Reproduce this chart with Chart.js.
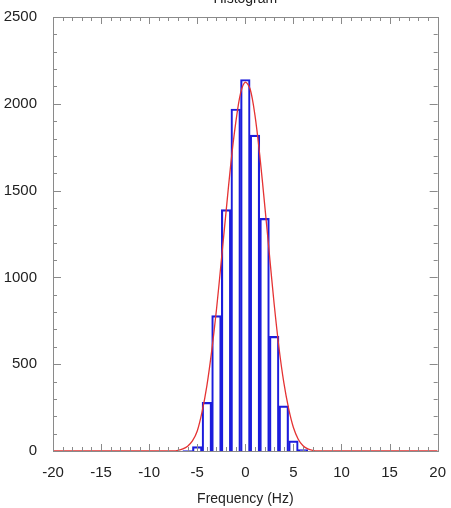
<!DOCTYPE html>
<html>
<head>
<meta charset="utf-8">
<script src="https://cdn.jsdelivr.net/npm/chart.js@4"></script>
<style>
  html, body { margin: 0; padding: 0; background: #fff; }
  #wrap { width: 451px; height: 508px; }
</style>
</head>
<body>
<div id="wrap"><canvas id="hist-chart" width="451" height="508"></canvas></div>
<script>
// bin centres (Hz) and counts
const binCenters = [-6, -5, -4, -3, -2, -1, 0, 1, 2, 3, 4, 5, 6];
const binCounts = [3, 25, 280, 780, 1390, 1970, 2140, 1820, 1340, 660, 260, 58, 8];

// fitted curve
const fitX = [-20, -7.5, -7, -6.5, -6, -5.5, -5, -4.5, -4, -3.5, -3, -2.5, -2, -1.5, -1, -0.5, 0,
  0.5, 1, 1.5, 2, 2.5, 3, 3.5, 4, 4.5, 5, 5.5, 6, 6.5, 7, 7.5, 20];
const fitY = [0, 1, 4, 12, 28, 58, 115, 225, 375, 575, 815, 1095, 1380, 1660, 1890, 2060, 2125,
  2085, 1935, 1705, 1425, 1135, 845, 595, 395, 245, 135, 68, 30, 12, 4, 1, 0];

const xTicks = [-20, -15, -10, -5, 0, 5, 10, 15, 20];
const yTicks = [0, 500, 1000, 1500, 2000, 2500];

const FONT = 'Liberation Sans, Arial, sans-serif';
const axisGray = '#8a8a8a';

// inward tick marks on all four sides + frame
const innerTicks = {
  id: 'innerTicks',
  afterDatasetsDraw(chart) {
    const { ctx, chartArea: a, scales } = chart;
    const xs = scales.x, ys = scales.y;
    ctx.save();
    ctx.strokeStyle = axisGray;
    ctx.lineWidth = 1;
    ctx.beginPath();
    for (let v = -20; v <= 20; v++) {
      const px = Math.round(xs.getPixelForValue(v)) + 0.5;
      const len = v % 5 === 0 ? 7 : 4;
      ctx.moveTo(px, a.bottom); ctx.lineTo(px, a.bottom - len);
      ctx.moveTo(px, a.top); ctx.lineTo(px, a.top + len);
    }
    for (let v = 0; v <= 2500; v += 100) {
      const py = Math.round(ys.getPixelForValue(v)) + 0.5;
      const len = v % 500 === 0 ? 8 : 4;
      ctx.moveTo(a.left, py); ctx.lineTo(a.left + len, py);
      ctx.moveTo(a.right, py); ctx.lineTo(a.right - len, py);
    }
    ctx.stroke();
    ctx.strokeRect(Math.round(a.left) + 0.5, Math.round(a.top) + 0.5,
      Math.round(a.right - a.left), Math.round(a.bottom - a.top));
    ctx.restore();
  },
  afterDraw(chart) {
    // title sits partly above the canvas in the original
    const { ctx, chartArea: a } = chart;
    ctx.save();
    ctx.fillStyle = '#222';
    ctx.font = '14px ' + FONT;
    ctx.textAlign = 'center';
    ctx.textBaseline = 'alphabetic';
    ctx.fillText('Histogram', (a.left + a.right) / 2, 3);
    ctx.restore();
  }
};

const ctx = document.getElementById('hist-chart').getContext('2d');
new Chart(ctx, {
  data: {
    datasets: [
      {
        type: 'line',
        data: fitX.map((x, i) => ({ x: x, y: fitY[i] })),
        borderColor: '#e53333',
        borderWidth: 1.3,
        pointRadius: 0,
        tension: 0.3,
        order: 0
      },
      {
        type: 'bar',
        data: binCenters.map((x, i) => ({ x: x, y: binCounts[i] })),
        backgroundColor: 'rgba(0,0,0,0)',
        borderColor: '#1c1cdc',
        borderWidth: 1.5,
        barPercentage: 1,
        categoryPercentage: 1,
        order: 1
      }
    ]
  },
  plugins: [innerTicks],
  options: {
    responsive: false,
    animation: false,
    layout: { padding: { top: 17, right: 13, left: 0, bottom: 0 } },
    plugins: { legend: { display: false }, tooltip: { enabled: false } },
    scales: {
      x: {
        type: 'linear',
        min: -20,
        max: 20,
        offset: false,
        afterBuildTicks(scale) { scale.ticks = xTicks.map(v => ({ value: v })); },
        afterFit(scale) { scale.height = 57; },
        grid: { display: false, offset: false },
        border: { display: false },
        ticks: {
          color: '#222', font: { family: FONT, size: 15 }, padding: 5, maxRotation: 0,
          callback: v => String(v)
        },
        title: {
          display: true,
          text: 'Frequency (Hz)',
          color: '#222',
          font: { family: FONT, size: 14 },
          padding: { top: 3, bottom: 0 }
        }
      },
      y: {
        min: 0,
        max: 2500,
        afterBuildTicks(scale) { scale.ticks = yTicks.map(v => ({ value: v })); },
        afterFit(scale) { scale.width = 53; },
        grid: { display: false },
        border: { display: false },
        ticks: {
          color: '#222', font: { family: FONT, size: 15 }, padding: 8,
          callback: v => String(v)
        }
      }
    }
  }
});
</script>
</body>
</html>
